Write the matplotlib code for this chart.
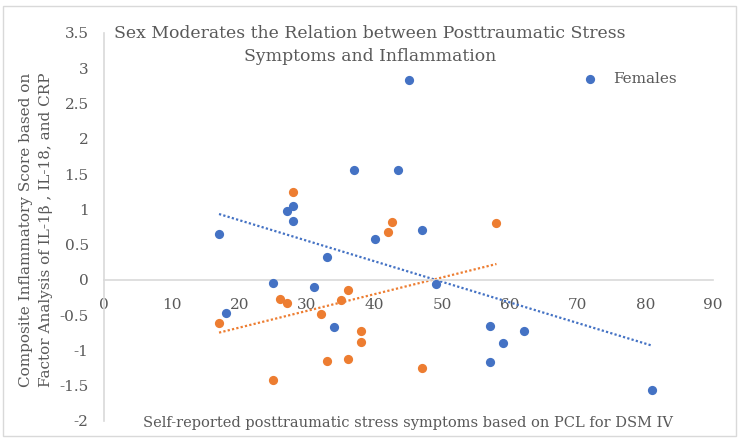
import numpy as np
import matplotlib
matplotlib.use('Agg')
import matplotlib.pyplot as plt
from matplotlib.patches import Rectangle

# PCL score / inflammation composite
fem_x = [17, 18, 25, 27, 28, 28, 31, 33, 34, 37, 40, 43.5, 45, 47, 49, 57, 57, 59, 62, 81]
fem_y = [0.65, -0.47, -0.05, 0.97, 1.05, 0.84, -0.10, 0.33, -0.67, 1.56, 0.58, 1.56, 2.83, 0.71, -0.06, -0.65, -1.17, -0.90, -0.72, -1.56]
male_x = [17, 25, 26, 27, 28, 32, 33, 35, 36, 36, 38, 38, 42, 42.5, 47, 58]
male_y = [-0.61, -1.42, -0.27, -0.33, 1.24, -0.48, -1.15, -0.28, -0.14, -1.12, -0.73, -0.88, 0.68, 0.82, -1.25, 0.81]

blue = '#4472C4'
orange = '#ED7D31'
grey_txt = '#595959'
grey_ln = '#D9D9D9'

plt.rcParams['font.family'] = ['DejaVu Serif']

fig = plt.figure(figsize=(7.44, 4.41), dpi=100)
ax = fig.add_axes([104/744, 1-421/441, (713-104)/744, (421-33)/441])

sc_f = ax.scatter(fem_x, fem_y, s=44, color=blue, zorder=3, label='Females', linewidths=0)
ax.scatter(male_x, male_y, s=44, color=orange, zorder=3, linewidths=0)

# linear trendlines
for xs, ys, c in [(fem_x, fem_y, blue), (male_x, male_y, orange)]:
    xs = np.array(xs); ys = np.array(ys)
    k, b = np.polyfit(xs, ys, 1)
    xx = np.array([xs.min(), xs.max()])
    ax.plot(xx, k*xx + b, color=c, lw=1.6, linestyle=(0, (1, 1)), zorder=2)

ax.set_xlim(0, 90)
ax.set_ylim(-2, 3.5)
ax.set_xticks(np.arange(0, 91, 10))
ax.set_yticks(np.arange(-2, 3.51, 0.5))
ax.set_yticklabels(['-2', '-1.5', '-1', '-0.5', '0', '0.5', '1', '1.5', '2', '2.5', '3', '3.5'])

for s in ['top', 'right']:
    ax.spines[s].set_visible(False)
ax.spines['left'].set_color(grey_ln)
ax.spines['bottom'].set_color(grey_ln)
ax.spines['bottom'].set_position(('data', 0))
ax.spines['left'].set_linewidth(1.2)
ax.spines['bottom'].set_linewidth(1.2)
ax.tick_params(axis='x', length=0, pad=13, labelsize=11, labelcolor=grey_txt)
ax.tick_params(axis='y', length=0, pad=11, labelsize=11, labelcolor=grey_txt)

fig.text(370/744, 1-45/441, 'Sex Moderates the Relation between Posttraumatic Stress\nSymptoms and Inflammation',
         ha='center', va='center', fontsize=12.4, color=grey_txt, linespacing=1.5)
fig.text(408/744, 1-423/441, 'Self-reported posttraumatic stress symptoms based on PCL for DSM IV',
         ha='center', va='center', fontsize=10.5, color=grey_txt)
fig.text(36/744, 1-230/441, 'Composite Inflammatory Score based on\nFactor Analysis of IL-1\u03b2 , IL-18, and CRP',
         ha='center', va='center', rotation=90, fontsize=11, color=grey_txt, linespacing=1.6)

ax.legend(handles=[sc_f], loc='center left', bbox_to_anchor=(575/744, 1-79/441),
          bbox_transform=fig.transFigure, frameon=False, fontsize=11, labelcolor=grey_txt,
          borderpad=0, borderaxespad=0, handletextpad=0.5)

fig.patches.append(Rectangle((3/744, 1-436/441), 733/744, 430/441, transform=fig.transFigure,
                             fill=False, edgecolor=grey_ln, lw=1))

fig.savefig('out.png', dpi=100)
